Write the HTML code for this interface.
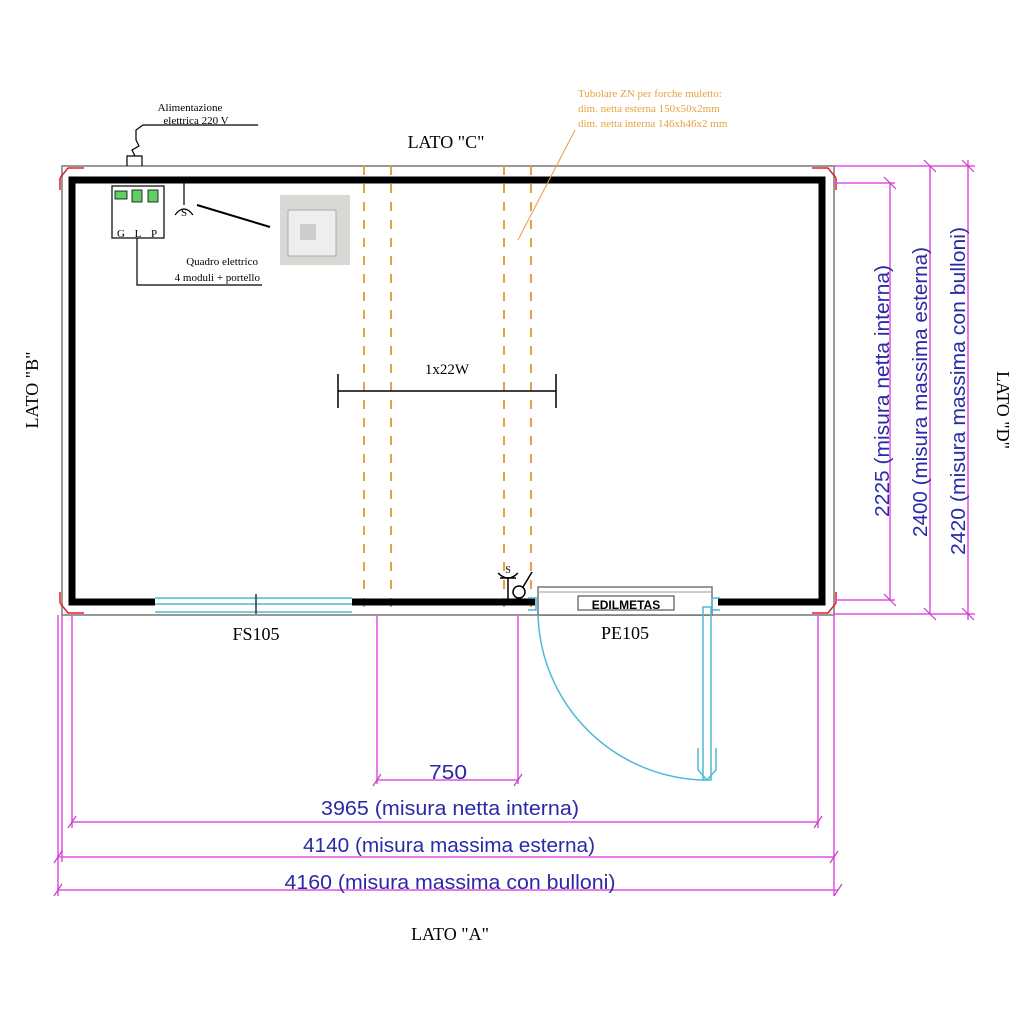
<!DOCTYPE html>
<html><head><style>body{margin:0;background:#fff}svg{display:block}</style></head><body>
<svg width="1024" height="1024" viewBox="0 0 1024 1024" xmlns="http://www.w3.org/2000/svg" font-family="Liberation Serif, serif">
<rect width="1024" height="1024" fill="#fff"/>
<rect x="62" y="166" width="772" height="449" fill="none" stroke="#999" stroke-width="2"/>
<g stroke="#e8a040" stroke-width="2" stroke-dasharray="9,9">
<line x1="364" y1="166" x2="364" y2="615"/><line x1="391" y1="166" x2="391" y2="615"/>
<line x1="504" y1="166" x2="504" y2="615"/><line x1="531" y1="166" x2="531" y2="615"/>
</g>
<path d="M155 602 H72 V180 H822 V602 H718" fill="none" stroke="#000" stroke-width="7"/>
<line x1="352" y1="602" x2="535" y2="602" stroke="#000" stroke-width="7"/>
<g stroke="#e02020" stroke-width="1.5" fill="none">
<path d="M60 178 L68 168 H84 M60 178 V190"/><path d="M836 178 L828 168 H812 M836 178 V190"/>
<path d="M60 603 L68 613 H84 M60 603 V592"/><path d="M836 603 L828 613 H812 M836 603 V592"/>
</g>
<g stroke="#50b8d8" stroke-width="1.5">
<line x1="155" y1="598" x2="352" y2="598"/><line x1="155" y1="604" x2="352" y2="604"/><line x1="155" y1="612" x2="352" y2="612"/>
</g>
<line x1="256" y1="594" x2="256" y2="614" stroke="#333" stroke-width="1.5"/>
<text x="256" y="640" font-size="18" text-anchor="middle">FS105</text>
<rect x="538" y="587" width="174" height="28" fill="#fff" stroke="#777" stroke-width="1.5"/>
<line x1="538" y1="592" x2="712" y2="592" stroke="#999"/>
<rect x="578" y="596" width="96" height="14" fill="#fff" stroke="#333"/>
<text x="626" y="609" font-size="12" text-anchor="middle" font-family="Liberation Sans, sans-serif" font-weight="bold">EDILMETAS</text>
<text x="625" y="639" font-size="18" text-anchor="middle">PE105</text>
<g stroke="#50b8d8" stroke-width="1.5" fill="none">
<path d="M538 615 A170 170 0 0 0 705 780"/>
<rect x="703" y="607" width="8" height="173"/>
<path d="M698 748 V770 L707 780 L716 770 V748"/>
<path d="M528 598 h8 v12 h-8 M720 598 h-8 v12 h8"/>
</g>
<g stroke="#000" stroke-width="1.5" fill="none">
<path d="M498 573 q10 10 20 0"/><line x1="508" y1="578" x2="508" y2="600"/><line x1="500" y1="578" x2="516" y2="578"/>
<circle cx="519" cy="592" r="6"/><line x1="523" y1="587" x2="532" y2="572"/>
</g>
<text x="508" y="573" font-size="10" text-anchor="middle">S</text>
<g stroke="#000" stroke-width="1.2" fill="none">
<rect x="112" y="186" width="52" height="52"/>
<path d="M137 238 V285 H262"/>
<path d="M127 166 V156 H142 V166"/><path d="M135 156 L132 150 L139 146 L136 140 V130 L143 125 H258"/>
<line x1="184" y1="183" x2="184" y2="205"/><path d="M175 215 q9 -12 18 0"/>
<line x1="197" y1="205" x2="270" y2="227" stroke-width="2"/>
</g>
<g fill="#60d060" stroke="#000" stroke-width="0.8"><rect x="115" y="191" width="12" height="8"/><rect x="132" y="190" width="10" height="12"/><rect x="148" y="190" width="10" height="12"/></g>
<g font-size="11"><text x="121" y="237" text-anchor="middle">G</text><text x="138" y="237" text-anchor="middle">L</text><text x="154" y="237" text-anchor="middle">P</text><text x="184" y="216" text-anchor="middle">S</text></g>
<text x="190" y="111" font-size="11" text-anchor="middle">Alimentazione</text>
<text x="196" y="124" font-size="11" text-anchor="middle">elettrica 220 V</text>
<text x="258" y="265" font-size="11" text-anchor="end">Quadro elettrico</text>
<text x="260" y="281" font-size="11" text-anchor="end">4 moduli + portello</text>
<rect x="280" y="195" width="70" height="70" fill="#d8d8d4"/>
<rect x="288" y="210" width="48" height="46" fill="#eee" stroke="#aaa"/>
<rect x="300" y="224" width="16" height="16" fill="#ccc"/>
<g stroke="#000" stroke-width="1.5"><line x1="338" y1="391" x2="556" y2="391"/><line x1="338" y1="374" x2="338" y2="408"/><line x1="556" y1="374" x2="556" y2="408"/></g>
<text x="447" y="374" font-size="15" text-anchor="middle">1x22W</text>
<g fill="#e8a040" font-size="11"><text x="578" y="97">Tubolare ZN per forche muletto:</text><text x="578" y="112">dim. netta esterna 150x50x2mm</text><text x="578" y="127">dim. netta interna 146xh46x2 mm</text></g>
<path d="M575 130 L518 240" stroke="#e8a040" stroke-width="1"/>
<g font-size="18"><text x="446" y="148" text-anchor="middle">LATO "C"</text><text x="450" y="940" text-anchor="middle">LATO "A"</text>
<text transform="translate(38,390) rotate(-90)" text-anchor="middle">LATO "B"</text>
<text transform="translate(997,410) rotate(90)" text-anchor="middle">LATO "D"</text></g>
<g stroke="#e050e0" stroke-width="1.5" fill="none">
<line x1="72" y1="615" x2="72" y2="828"/><line x1="818" y1="615" x2="818" y2="828"/>
<line x1="62" y1="615" x2="62" y2="862"/><line x1="834" y1="615" x2="834" y2="896"/>
<line x1="58" y1="615" x2="58" y2="896"/>
<line x1="377" y1="615" x2="377" y2="784"/><line x1="518" y1="615" x2="518" y2="784"/>
<line x1="377" y1="780" x2="518" y2="780"/><line x1="72" y1="822" x2="818" y2="822"/>
<line x1="58" y1="857" x2="834" y2="857"/><line x1="58" y1="890" x2="838" y2="890"/>
<line x1="834" y1="166" x2="975" y2="166"/><line x1="834" y1="183" x2="895" y2="183"/>
<line x1="834" y1="600" x2="895" y2="600"/><line x1="834" y1="614" x2="975" y2="614"/>
<line x1="890" y1="183" x2="890" y2="600"/><line x1="930" y1="166" x2="930" y2="614"/><line x1="968" y1="160" x2="968" y2="620"/>
</g>
<g stroke="#c040c0" stroke-width="1.2">
<path d="M373 786 l8-12 M514 786 l8-12 M68 828 l8-12 M814 828 l8-12 M54 863 l8-12 M830 863 l8-12 M54 896 l8-12 M834 896 l8-12"/>
<path d="M884 177 l12 12 M884 594 l12 12 M924 160 l12 12 M924 608 l12 12 M962 160 l12 12 M962 608 l12 12"/>
</g>
<g fill="#2a2aa8" font-size="20" font-family="Liberation Sans, sans-serif" lengthAdjust="spacingAndGlyphs">
<text x="448" y="779" text-anchor="middle" textLength="38" lengthAdjust="spacingAndGlyphs">750</text>
<text x="450" y="815" text-anchor="middle" textLength="258" lengthAdjust="spacingAndGlyphs">3965 (misura netta interna)</text>
<text x="449" y="852" text-anchor="middle" textLength="292" lengthAdjust="spacingAndGlyphs">4140 (misura massima esterna)</text>
<text x="450" y="889" text-anchor="middle" textLength="331" lengthAdjust="spacingAndGlyphs">4160 (misura massima con bulloni)</text>
<text transform="translate(889,391) rotate(-90)" text-anchor="middle" textLength="252" lengthAdjust="spacingAndGlyphs">2225 (misura netta interna)</text>
<text transform="translate(927,392) rotate(-90)" text-anchor="middle" textLength="290" lengthAdjust="spacingAndGlyphs">2400 (misura massima esterna)</text>
<text transform="translate(965,391) rotate(-90)" text-anchor="middle" textLength="328" lengthAdjust="spacingAndGlyphs">2420 (misura massima con bulloni)</text>
</g>
</svg>
</body></html>
